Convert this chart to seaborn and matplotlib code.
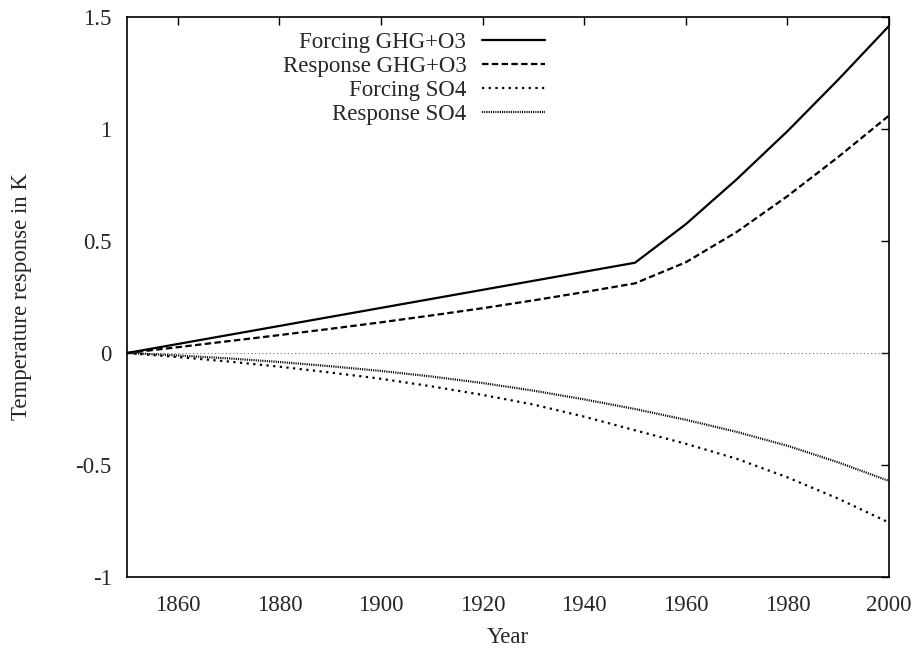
import matplotlib
matplotlib.use("Agg")
import matplotlib.pyplot as plt
import seaborn as sns
import pandas as pd

# Decadal years shared by the smooth series
years = [1850, 1860, 1870, 1880, 1890, 1900, 1910, 1920,
         1930, 1940, 1950, 1960, 1970, 1980, 1990, 2000]

# Forcing GHG+O3 is piecewise linear: a straight rise to 1950, steeper afterwards
forcing_ghg_years = [1850, 1950, 1960, 1970, 1980, 1990, 2000]
forcing_ghg = [0.0, 0.403, 0.575, 0.775, 0.99, 1.22, 1.46]

response_ghg = [0.0, 0.026, 0.053, 0.080, 0.108, 0.137, 0.168, 0.200,
                0.235, 0.272, 0.311, 0.405, 0.540, 0.700, 0.875, 1.06]

forcing_so4 = [0.0, -0.018, -0.038, -0.061, -0.087, -0.115, -0.149, -0.187,
               -0.230, -0.284, -0.345, -0.405, -0.472, -0.555, -0.650, -0.757]

response_so4 = [0.0, -0.011, -0.024, -0.040, -0.059, -0.080, -0.105, -0.134,
                -0.168, -0.207, -0.250, -0.298, -0.352, -0.414, -0.488, -0.571]

labels = ["Forcing GHG+O3", "Response GHG+O3", "Forcing SO4", "Response SO4"]
x_ticks = [1860, 1880, 1900, 1920, 1940, 1960, 1980, 2000]
y_ticks = [-1, -0.5, 0, 0.5, 1, 1.5]
y_tick_labels = ["-1", "-0.5", "0", "0.5", "1", "1.5"]

FS = 16.5

sns.set_theme(style="white")
plt.rcParams["font.family"] = ["Liberation Serif", "DejaVu Serif"]
plt.rcParams["axes.edgecolor"] = "black"

fig = plt.figure(figsize=(9.14, 6.5), dpi=100)
ax = fig.add_axes([0.139, 0.1123, 0.8336, 0.8615])

# zero axis
ax.axhline(0, color="#666666", lw=0.75, linestyle=(0, (1, 2.5)), zorder=1)

series = [
    (forcing_ghg_years, forcing_ghg, labels[0], "-", 1.6),
    (years, response_ghg, labels[1], (0, (2.9, 1.5)), 1.6),
    (years, forcing_so4, labels[2], (0, (1.0, 2.0)), 1.6),
    (years, response_so4, labels[3], (0, (0.5, 0.5)), 1.6),
]
for xs, ys, lab, ls, lw in series:
    df = pd.DataFrame({"Year": xs, "value": ys})
    sns.lineplot(data=df, x="Year", y="value", ax=ax, color="black",
                 linestyle=ls, linewidth=lw, label=lab, zorder=3)

ax.set_xlim(1850, 2000)
ax.set_ylim(-1, 1.5)
ax.set_xticks(x_ticks)
ax.set_yticks(y_ticks)
ax.set_yticklabels(y_tick_labels)
ax.set_xlabel("Year", fontsize=FS, labelpad=8)
ax.set_ylabel("Temperature response in K", fontsize=FS, labelpad=31)

ax.tick_params(axis="both", which="major", direction="in", length=6, width=1,
               color="black", labelsize=FS, top=True, right=True)
ax.tick_params(axis="x", pad=13)
ax.tick_params(axis="y", pad=11)
for sp in ax.spines.values():
    sp.set_visible(True)
    sp.set_linewidth(1.2)
    sp.set_color("black")

leg = ax.legend(loc="upper right", bbox_to_anchor=(0.549, 0.974),
                markerfirst=False, frameon=False, fontsize=FS,
                handlelength=2.75, handletextpad=0.7, labelspacing=0.13,
                borderpad=0, borderaxespad=0)

fig.savefig("out.png", dpi=100, facecolor="white")
